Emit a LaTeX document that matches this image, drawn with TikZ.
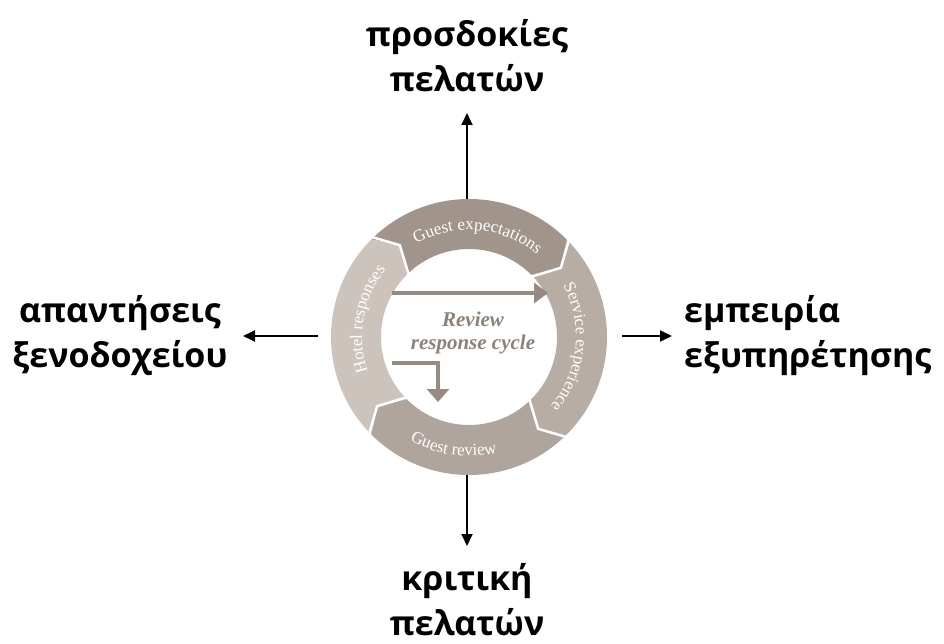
\documentclass[tikz,border=0pt]{standalone}
\usepackage{fontspec}
\setmainfont{Liberation Serif}
\newfontfamily\grfont{Open Sans}
\usetikzlibrary{arrows.meta,calc,decorations.text}
\definecolor{hotelc}{RGB}{203,195,188}
\definecolor{gexpc}{RGB}{160,148,139}
\definecolor{servc}{RGB}{183,173,165}
\definecolor{grevc}{RGB}{175,165,157}
\definecolor{carrc}{RGB}{150,139,131}
\definecolor{ctextc}{RGB}{140,129,121}
\newcommand\ringfont{\fontsize{17}{17}\selectfont}
\begin{document}
\begin{tikzpicture}[x=1pt,y=1pt,
  lab/.style={font=\grfont\bfseries\fontsize{34}{45}\selectfont, align=center, inner sep=0pt},
  blackarr/.style={line width=1.8pt, -{Triangle[length=12pt,width=11pt]}},
  carr/.style={draw=carrc, line width=4pt},
  ctext/.style={text=ctextc, font=\fontsize{21}{23}\selectfont\bfseries\itshape, inner sep=0pt},
  gap/.style={draw=white, line width=2.5pt}
]
\useasboundingbox (0,0) rectangle (944,643);
\coordinate (C) at (469,306);
\def\Ro{138pt}\def\Ri{88pt}\def\Rm{115pt}\def\Rox{143pt}\def\Rix{84pt}
\def\tip{8}
% ring segments
\foreach \a/\col in {135/gexpc, 45/servc, -45/grevc, -135/hotelc}{
  \pgfmathsetmacro\b{\a-90}
  \pgfmathsetmacro\bt{\a-90-\tip}
  \pgfmathsetmacro\at{\a-\tip}
  \fill[\col] ($(C)+(\a:\Ro)$) arc[start angle=\a, end angle=\b, radius=\Ro]
    -- ($(C)+(\bt:\Rm)$) -- ($(C)+(\b:\Ri)$)
    arc[start angle=\b, end angle=\a, radius=\Ri]
    -- ($(C)+(\at:\Rm)$) -- cycle;
}
\foreach \b in {45,-45,-135,135}{
  \pgfmathsetmacro\bt{\b-\tip}
  \draw[gap] ($(C)+(\b:\Rox)$) -- ($(C)+(\bt:\Rm)$) -- ($(C)+(\b:\Rix)$);
}
% ring texts
\path[decorate, decoration={text along path, text align=center, text color=white,
  text={|\ringfont|Guest expectations}}]
  ($(C)+(140:107pt)$) arc[start angle=140, end angle=30, radius=107pt];
\path[decorate, decoration={text along path, text align=center, text color=white,
  text={|\ringfont|Service experience}}]
  ($(C)+(36:107pt)$) arc[start angle=36, end angle=-48, radius=107pt];
\path[decorate, decoration={text along path, text align=center, text color=white,
  text={|\ringfont|Guest review}}]
  ($(C)+(-140:119pt)$) arc[start angle=-140, end angle=-56, radius=119pt];
\path[decorate, decoration={text along path, text align=center, text color=white,
  text={|\ringfont|Hotel responses}}]
  ($(C)+(212:107pt)$) arc[start angle=212, end angle=128, radius=107pt];
% centre arrows
\coordinate (ha1) at (392,350);
\coordinate (ha2) at (548,350);
\draw[carr, -{Triangle[length=14pt,width=20pt]}] (ha1) -- (ha2);
\coordinate (ba1) at (392,280);
\coordinate (ba2) at (438,241);
\draw[carr, -{Triangle[length=13pt,width=22pt]}] (ba1) -| (ba2);
\node[ctext] (rev) at (473,324) {Review};
\node[ctext] (rcyc) at (473,299) {response cycle};
% outer labels
\node[lab] (top) at (467,587) {προσδοκίες\\πελατών};
\node[lab] (left) at (120,307) {απαντήσεις\\ξενοδοχείου};
\node[lab, anchor=west, align=left] (right) at (684,307) {εμπειρία\\εξυπηρέτησης};
\node[lab] (bottom) at (467,43) {κριτική\\πελατών};
% black arrows
\coordinate (u1) at (467,444); \coordinate (u2) at (467,530);
\coordinate (l1) at (318,307); \coordinate (l2) at (243,307);
\coordinate (r1) at (622,307); \coordinate (r2) at (672,307);
\coordinate (d1) at (467,168); \coordinate (d2) at (467,97);
\draw[blackarr] (u1) -- (u2);
\draw[blackarr] (l1) -- (l2);
\draw[blackarr] (r1) -- (r2);
\draw[blackarr] (d1) -- (d2);
\end{tikzpicture}
\end{document}
